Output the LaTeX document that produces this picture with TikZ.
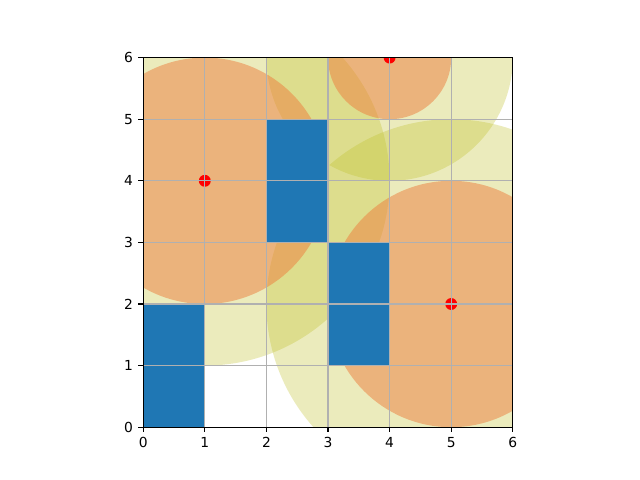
\documentclass[tikz,border=0pt]{standalone}
\usepackage{fontspec}
\setmainfont{DejaVu Sans}
\usetikzlibrary{positioning}
\definecolor{tabblue}{HTML}{1F77B4}
\definecolor{olivezone}{RGB}{188,189,34}
\definecolor{peachzone}{RGB}{237,125,59}
\definecolor{gridgray}{HTML}{B0B0B0}
\tikzset{far/.style={fill=olivezone,fill opacity=0.3},
	near/.style={fill=peachzone,fill opacity=0.5},
	ticklbl/.style={inner sep=0pt,font=\fontsize{10}{12}\selectfont}}

\begin{document}
\begin{tikzpicture}[x=0.616in,y=0.616in]
	\def\n{6}
	\def\dot{4.3pt}
	\useasboundingbox (-2.3247,-0.8571) rectangle (8.0649,6.9351);
	\begin{scope}
		\clip (0,0) rectangle (\n,\n);
		\foreach \cx/\cy/\r in {1/4/3,4/6/2,5/2/3}{
			\fill[far] (\cx,\cy) circle (\r);
		}
		\foreach \cx/\cy/\r in {1/4/2,4/6/1,5/2/2}{
			\fill[near] (\cx,\cy) circle (\r);
		}
		\fill[tabblue] (0,0) rectangle (1,2) (2,3) rectangle (3,5) (3,1) rectangle (4,3);
		\foreach \cx/\cy in {1/4,4/6,5/2}{
			\fill[red] (\cx,\cy) circle (\dot);
		}
	\end{scope}
	\foreach \i in {0,...,\n}{
		\draw[gridgray,line width=0.8pt] (\i,0) -- (\i,\n) (0,\i) -- (\n,\i);
	}
	\draw[line width=0.8pt] (0,0) rectangle (\n,\n);
	\foreach \i in {0,...,\n}{
		\draw[line width=0.8pt] (\i,0) -- ++(0,-3.5pt) node[ticklbl,anchor=north,yshift=-3.5pt] (xl\i) {\i};
		\draw[line width=0.8pt] (0,\i) -- ++(-3.5pt,0) node[ticklbl,anchor=east,xshift=-3.5pt] (yl\i) {\i};
	}
\end{tikzpicture}
\end{document}
